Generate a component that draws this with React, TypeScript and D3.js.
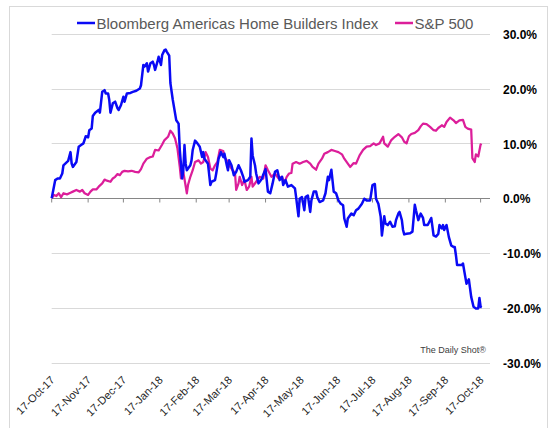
import React, {useEffect, useRef} from "react";
import * as d3 from "d3";

// Bloomberg Americas Home Builders Index, % change since 17-Oct-17
const homeDates = [
  "2017-10-17", "2017-10-20", "2017-10-22", "2017-10-24", "2017-10-26", "2017-10-27", "2017-10-29", "2017-10-31",
  "2017-11-02", "2017-11-03", "2017-11-04", "2017-11-07", "2017-11-09", "2017-11-11", "2017-11-13", "2017-11-15",
  "2017-11-17", "2017-11-18", "2017-11-20", "2017-11-21", "2017-11-23", "2017-11-26", "2017-11-27", "2017-11-29",
  "2017-12-01", "2017-12-02", "2017-12-04", "2017-12-05", "2017-12-06", "2017-12-08", "2017-12-10", "2017-12-12",
  "2017-12-13", "2017-12-15", "2017-12-17", "2017-12-18", "2017-12-20", "2017-12-23", "2017-12-25", "2017-12-28", "2017-12-31",
  "2018-01-01", "2018-01-03", "2018-01-04", "2018-01-06", "2018-01-07", "2018-01-09", "2018-01-11", "2018-01-12", "2018-01-13", "2018-01-15",
  "2018-01-16", "2018-01-18", "2018-01-19", "2018-01-21", "2018-01-22", "2018-01-23", "2018-01-25", "2018-01-26", "2018-01-28", "2018-01-31",
  "2018-02-02", "2018-02-03", "2018-02-05", "2018-02-06", "2018-02-07", "2018-02-08", "2018-02-09", "2018-02-12", "2018-02-13",
  "2018-02-14", "2018-02-16", "2018-02-18", "2018-02-20", "2018-02-22", "2018-02-23", "2018-02-24", "2018-02-27",
  "2018-03-01", "2018-03-02", "2018-03-05", "2018-03-06", "2018-03-08", "2018-03-10", "2018-03-12", "2018-03-13", "2018-03-15",
  "2018-03-16", "2018-03-17", "2018-03-19", "2018-03-21", "2018-03-23", "2018-03-25", "2018-03-27", "2018-03-29", "2018-03-30",
  "2018-04-02", "2018-04-04", "2018-04-05", "2018-04-06", "2018-04-08", "2018-04-09", "2018-04-11", "2018-04-14",
  "2018-04-15", "2018-04-17", "2018-04-19", "2018-04-21", "2018-04-23", "2018-04-25", "2018-04-27", "2018-04-29",
  "2018-05-01", "2018-05-02", "2018-05-04", "2018-05-06", "2018-05-09", "2018-05-12", "2018-05-13", "2018-05-15", "2018-05-16",
  "2018-05-18", "2018-05-20", "2018-05-21", "2018-05-23", "2018-05-25", "2018-05-26", "2018-05-28", "2018-05-30", "2018-05-31",
  "2018-06-02", "2018-06-05", "2018-06-07", "2018-06-09", "2018-06-10", "2018-06-12", "2018-06-14", "2018-06-16",
  "2018-06-18", "2018-06-20", "2018-06-22", "2018-06-23", "2018-06-25", "2018-06-26", "2018-06-29",
  "2018-07-01", "2018-07-03", "2018-07-05", "2018-07-08", "2018-07-10", "2018-07-12", "2018-07-15", "2018-07-17",
  "2018-07-19", "2018-07-20", "2018-07-22", "2018-07-24", "2018-07-25", "2018-07-27", "2018-07-28", "2018-07-30",
  "2018-08-01", "2018-08-03", "2018-08-05", "2018-08-06", "2018-08-08", "2018-08-09", "2018-08-11", "2018-08-12", "2018-08-13",
  "2018-08-15", "2018-08-18", "2018-08-20", "2018-08-22", "2018-08-23", "2018-08-25", "2018-08-27", "2018-08-29", "2018-08-30",
  "2018-09-02", "2018-09-05", "2018-09-07", "2018-09-09", "2018-09-11", "2018-09-12", "2018-09-14", "2018-09-15",
  "2018-09-16", "2018-09-18", "2018-09-20", "2018-09-22", "2018-09-24", "2018-09-25", "2018-09-26", "2018-09-27",
  "2018-10-01", "2018-10-02", "2018-10-04", "2018-10-05", "2018-10-07", "2018-10-09",
  "2018-10-11", "2018-10-13", "2018-10-15", "2018-10-16", "2018-10-17", "2018-10-18",
];
const homeValues = [
  0, 3.3, 3.6, 3.6, 4.5, 6.0, 6.4, 6.8,
  8.4, 6.3, 5.7, 6.6, 9.4, 9.7, 10.0, 11.3,
  11.1, 12.4, 12.7, 15.0, 15.6, 16.1, 15.6, 19.4,
  19.7, 19.1, 19.1, 17.9, 15.6, 17.3, 17.6, 16.4,
  16.1, 17.0, 18.5, 17.6, 19.1, 19.2, 19.4, 19.6, 20.0,
  20.6, 24.3, 24.0, 24.6, 23.1, 24.6, 24.9, 24.3, 23.4, 24.9,
  25.8, 24.3, 26.1, 27.0, 27.1, 26.7, 26.0, 21.0, 18.0, 14.2,
  13.6, 8.8, 3.6, 5.1, 9.7, 6.3, 5.1, 6.0, 6.9,
  8.8, 10.5, 10.0, 9.4, 7.5, 8.4, 7.2, 6.3,
  2.4, 3.0, 3.3, 4.5, 7.2, 8.4, 7.5, 8.1, 6.0,
  5.1, 6.9, 6.0, 4.2, 4.8, 6.0, 5.1, 3.9, 3.0,
  3.3, 3.9, 10.9, 7.8, 6.0, 4.5, 2.7, 3.6,
  4.3, 5.3, 1.2, 0.9, 2.7, 4.8, 5.1, 3.3,
  3.9, 2.4, 3.3, 2.1, 2.4, 1.8, 0.2, -3.3, -0.1,
  0.2, -2.2, 0.2, 0.5, -2.5, -0.4, 1.2, 1.2, 0.2,
  -0.7, -0.4, 0.9, 3.9, 3.3, 5.2, 1.2, 0.9,
  -0.4, -1.0, -1.3, -3.7, -5.2, -3.7, -2.8,
  -3.1, -2.2, -1.9, -1.0, -0.1, -0.4, -0.4, 2.4,
  2.6, -0.1, -1.0, -3.4, -6.8, -3.3, -4.6, -4.9,
  -4.3, -5.2, -5.1, -4.0, -2.8, -2.5, -4.0, -5.8, -6.6,
  -6.5, -6.4, -6.1, -1.2, -2.2, -4.0, -2.8, -3.6, -4.9,
  -4.9, -3.6, -6.8, -7.0, -6.5, -4.9, -5.5, -4.9,
  -5.8, -4.9, -7.1, -8.6, -8.9, -8.9, -10.4, -12.2,
  -12.2, -11.9, -14.4, -15.6, -14.8, -18.0,
  -19.8, -20.1, -20.1, -18.2, -19.8, -19.9,
];

// S&P 500, % change since 17-Oct-17
const spDates = [
  "2017-10-17", "2017-10-19", "2017-10-21", "2017-10-23", "2017-10-25", "2017-10-27", "2017-10-30",
  "2017-11-02", "2017-11-04", "2017-11-07", "2017-11-10", "2017-11-12", "2017-11-14",
  "2017-11-17", "2017-11-19", "2017-11-21", "2017-11-24", "2017-11-26", "2017-11-29",
  "2017-12-01", "2017-12-03", "2017-12-06", "2017-12-08", "2017-12-10", "2017-12-12", "2017-12-14",
  "2017-12-16", "2017-12-18", "2017-12-21", "2017-12-24", "2017-12-27", "2017-12-30",
  "2018-01-01", "2018-01-03", "2018-01-06", "2018-01-09", "2018-01-11", "2018-01-13", "2018-01-16",
  "2018-01-19", "2018-01-21", "2018-01-24", "2018-01-26", "2018-01-28", "2018-01-30",
  "2018-02-01", "2018-02-03", "2018-02-04", "2018-02-06", "2018-02-09", "2018-02-10", "2018-02-12",
  "2018-02-14", "2018-02-16", "2018-02-19", "2018-02-21", "2018-02-23", "2018-02-25", "2018-02-27",
  "2018-03-01", "2018-03-03", "2018-03-05", "2018-03-07", "2018-03-09", "2018-03-12", "2018-03-13", "2018-03-16",
  "2018-03-18", "2018-03-20", "2018-03-22", "2018-03-23", "2018-03-25", "2018-03-26", "2018-03-28", "2018-03-30",
  "2018-04-01", "2018-04-03", "2018-04-05", "2018-04-06", "2018-04-09", "2018-04-12",
  "2018-04-15", "2018-04-17", "2018-04-19", "2018-04-22", "2018-04-25", "2018-04-28",
  "2018-05-01", "2018-05-03", "2018-05-05", "2018-05-07", "2018-05-09", "2018-05-10", "2018-05-13",
  "2018-05-16", "2018-05-19", "2018-05-22", "2018-05-25", "2018-05-27", "2018-05-30",
  "2018-06-01", "2018-06-04", "2018-06-06", "2018-06-09", "2018-06-12", "2018-06-15",
  "2018-06-18", "2018-06-21", "2018-06-23", "2018-06-26", "2018-06-28",
  "2018-07-01", "2018-07-03", "2018-07-06", "2018-07-09", "2018-07-12", "2018-07-15",
  "2018-07-18", "2018-07-20", "2018-07-23", "2018-07-26", "2018-07-27", "2018-07-30",
  "2018-08-02", "2018-08-05", "2018-08-08", "2018-08-11", "2018-08-13", "2018-08-15",
  "2018-08-17", "2018-08-19", "2018-08-22", "2018-08-25", "2018-08-27", "2018-08-29",
  "2018-09-01", "2018-09-04", "2018-09-07", "2018-09-09", "2018-09-11", "2018-09-14",
  "2018-09-16", "2018-09-18", "2018-09-21", "2018-09-24", "2018-09-26", "2018-09-29",
  "2018-10-02", "2018-10-04", "2018-10-06", "2018-10-09", "2018-10-10",
  "2018-10-12", "2018-10-13", "2018-10-15", "2018-10-17", "2018-10-18",
];
const spValues = [
  0, 0.6, 0.4, 0.9, 0.2, 0.9, 0.7,
  1.0, 1.2, 1.5, 1.2, 1.5, 0.9,
  0.6, 1.2, 1.6, 1.6, 2.1, 2.7,
  3.4, 3.2, 3.0, 3.6, 3.9, 4.4, 4.2,
  4.8, 5.0, 4.9, 5.0, 4.8, 4.7,
  5.3, 6.3, 7.2, 7.5, 7.6, 8.8, 8.7,
  9.8, 10.6, 11.2, 12.3, 11.8, 10.9,
  9.1, 5.7, 3.6, 4.8, 0.9, 2.4, 3.9,
  5.1, 6.6, 6.9, 6.3, 6.6, 8.4, 7.5,
  5.4, 5.1, 6.0, 6.6, 8.8, 8.6, 7.5, 6.6,
  5.7, 5.1, 4.6, 1.5, 2.7, 3.9, 2.4, 3.3,
  1.5, 2.1, 3.9, 2.1, 3.0, 3.9,
  3.6, 6.0, 5.1, 3.9, 4.5, 3.6,
  3.9, 2.8, 3.9, 4.5, 4.6, 6.3, 6.6,
  6.3, 6.6, 6.8, 6.3, 5.7, 5.2,
  6.3, 7.2, 8.1, 8.4, 8.8, 8.6,
  8.4, 8.0, 7.2, 6.3, 5.7,
  6.4, 6.3, 7.8, 8.8, 9.4, 9.5,
  10.0, 9.7, 10.0, 11.2, 10.0, 9.4,
  10.6, 11.2, 11.7, 11.1, 10.3, 10.0,
  11.3, 11.7, 11.9, 12.4, 13.1, 13.6,
  13.5, 13.0, 12.4, 12.3, 12.8, 13.3,
  13.0, 13.9, 14.7, 14.2, 13.7, 14.2,
  14.3, 13.0, 12.7, 12.5, 7.3,
  6.6, 8.0, 7.6, 9.8, 9.7,
];

const seriesNames = ["Bloomberg Americas Home Builders Index", "S&P 500"];
const seriesColors = ["#0a0af5", "#dc1e9a"];

const xTicks = [
  "2017-10-17", "2017-11-17", "2017-12-17", "2018-01-17", "2018-02-17", "2018-03-17", "2018-04-17",
  "2018-05-17", "2018-06-17", "2018-07-17", "2018-08-17", "2018-09-17", "2018-10-17",
];
const xDomain = ["2017-10-17", "2018-10-25"];
const yTicks = [30, 20, 10, 0, -10, -20, -30];

const W = 550;
const H = 428;
const FONT = "'Liberation Sans', Arial, sans-serif";

export default function App() {
  const ref = useRef<SVGSVGElement>(null);

  useEffect(() => {
    if (!ref.current) return;
    const svg = d3.select(ref.current);
    svg.selectAll("*").remove();

    const parse = d3.timeParse("%Y-%m-%d");
    const fmt = d3.timeFormat("%d-%b-%y");

    const x = d3.scaleTime()
      .domain(xDomain.map((d) => parse(d) as Date))
      .range([51.7, 490]);
    const y = d3.scaleLinear().domain([-30, 30]).range([362.7, 33.7]);

    svg.append("rect").attr("width", W).attr("height", H).attr("fill", "#fff");
    // chart border
    svg.append("rect")
      .attr("x", 9.5).attr("y", 6.5)
      .attr("width", 538).attr("height", 430)
      .attr("fill", "none").attr("stroke", "#d9d9d9");

    // gridlines
    svg.append("g").selectAll("line")
      .data(yTicks.filter((v) => v !== 0))
      .join("line")
      .attr("x1", x.range()[0]).attr("x2", x.range()[1])
      .attr("y1", (d) => Math.round(y(d)) + 0.5).attr("y2", (d) => Math.round(y(d)) + 0.5)
      .attr("stroke", "#d9d9d9");

    // y labels (right)
    svg.append("g").selectAll("text")
      .data(yTicks)
      .join("text")
      .attr("x", 503)
      .attr("y", (d) => y(d) + 1)
      .attr("dy", "0.35em")
      .attr("font-family", FONT)
      .attr("font-size", 12)
      .attr("font-weight", "bold")
      .attr("fill", "#000")
      .text((d) => d.toFixed(1) + "%");

    // zero axis with ticks
    const y0 = Math.round(y(0)) + 0.5;
    svg.append("line")
      .attr("x1", x.range()[0]).attr("x2", x.range()[1])
      .attr("y1", y0).attr("y2", y0)
      .attr("stroke", "#868686");
    svg.append("g").selectAll("line")
      .data(xTicks)
      .join("line")
      .attr("x1", (d) => x(parse(d) as Date)).attr("x2", (d) => x(parse(d) as Date))
      .attr("y1", y0).attr("y2", y0 + 4)
      .attr("stroke", "#868686");

    // x labels, rotated
    svg.append("g").selectAll("text")
      .data(xTicks)
      .join("text")
      .attr("transform", (d) => `translate(${x(parse(d) as Date) + 1},378) rotate(-45)`)
      .attr("text-anchor", "end")
      .attr("dy", "0.35em")
      .attr("font-family", FONT)
      .attr("font-size", 11)
      .attr("fill", "#262626")
      .text((d) => fmt(parse(d) as Date));

    const line = d3.line<[Date, number]>()
      .x((d) => x(d[0]))
      .y((d) => y(d[1]));

    const home: [Date, number][] = homeDates.map((d, i) => [parse(d) as Date, homeValues[i]]);
    const sp: [Date, number][] = spDates.map((d, i) => [parse(d) as Date, spValues[i]]);

    svg.append("path")
      .datum(sp)
      .attr("d", line)
      .attr("fill", "none")
      .attr("stroke", seriesColors[1])
      .attr("stroke-width", 2.25)
      .attr("stroke-linejoin", "round");
    svg.append("path")
      .datum(home)
      .attr("d", line)
      .attr("fill", "none")
      .attr("stroke", seriesColors[0])
      .attr("stroke-width", 2.5)
      .attr("stroke-linejoin", "round");

    // legend
    const legendX = [77, 395];
    seriesNames.forEach((name, i) => {
      const g = svg.append("g").attr("transform", `translate(${legendX[i]},0)`);
      g.append("line")
        .attr("x1", 0).attr("x2", 18)
        .attr("y1", 23).attr("y2", 23)
        .attr("stroke", seriesColors[i])
        .attr("stroke-width", 2.5);
      g.append("text")
        .attr("x", 19.5).attr("y", 28.5)
        .attr("font-family", FONT)
        .attr("font-size", 15)
        .attr("fill", "#595959")
        .text(name);
    });

    svg.append("text")
      .attr("x", 486).attr("y", 353)
      .attr("text-anchor", "end")
      .attr("font-family", FONT)
      .attr("font-size", 9)
      .attr("fill", "#404040")
      .text("The Daily Shot®");
  }, []);

  return (
    <div style={{position: "absolute", left: 0, top: 0}}>
      <svg ref={ref} width={W} height={H} style={{display: "block"}} />
    </div>
  );
}
